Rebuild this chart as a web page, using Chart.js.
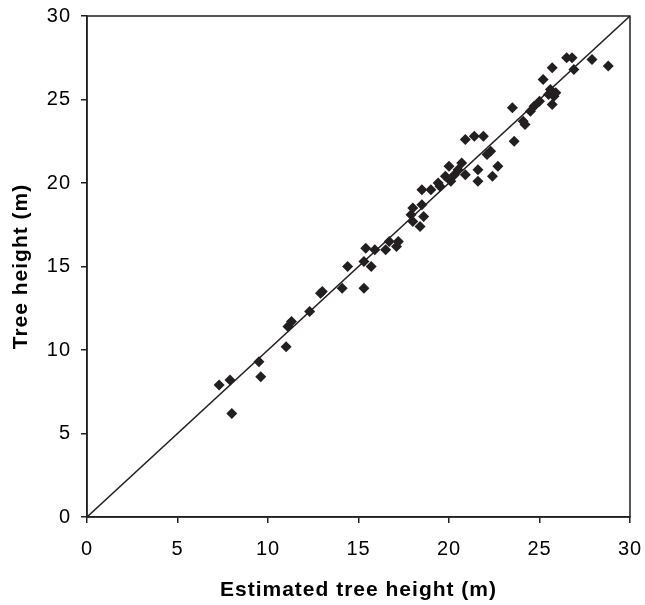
<!DOCTYPE html>
<html>
<head>
    <title>Tree height</title>
    <script src="https://cdn.jsdelivr.net/npm/chart.js"></script>
    <style>
        html, body { margin: 0; padding: 0; background: #fff; }
        .chart-container { width: 645px; height: 605px; }
    </style>
</head>
<body>
    <div class="chart-container">
        <canvas id="heightChart"></canvas>
    </div>
    <script>
        const estimated = [
            7.3, 7.9, 8.0, 9.5, 9.6, 11.0, 11.1, 11.3, 12.3, 12.9,
            13.0, 14.1, 14.4, 15.3, 15.3, 15.4, 15.7, 15.9, 16.5, 16.7,
            17.1, 17.2, 17.9, 18.0, 18.0, 18.4, 18.5, 18.5, 18.6, 19.0,
            19.4, 19.5, 19.8, 20.0, 20.1, 20.3, 20.5, 20.7, 20.9, 20.9,
            21.4, 21.6, 21.6, 21.9, 22.1, 22.3, 22.4, 22.7, 23.5, 23.6,
            24.1, 24.2, 24.5, 24.7, 25.0, 25.2, 25.5, 25.6, 25.7, 25.7,
            25.8, 25.9, 26.5, 26.8, 26.9, 27.9, 28.8
        ];
        const measured = [
            7.9, 8.2, 6.2, 9.3, 8.4, 10.2, 11.4, 11.7, 12.3, 13.4,
            13.5, 13.7, 15.0, 13.7, 15.3, 16.1, 15.0, 16.0, 16.0, 16.5,
            16.2, 16.5, 18.1, 18.5, 17.7, 17.4, 18.7, 19.6, 18.0, 19.6,
            20.0, 19.8, 20.4, 21.0, 20.1, 20.5, 20.8, 21.2, 20.5, 22.6,
            22.8, 20.8, 20.1, 22.8, 21.7, 21.9, 20.4, 21.0, 24.5, 22.5,
            23.7, 23.5, 24.3, 24.6, 24.9, 26.2, 25.3, 25.6, 26.9, 24.7,
            25.2, 25.4, 27.5, 27.5, 26.8, 27.4, 27.0
        ];
        const lineX = [0, 30];
        const lineY = [0, 30];
        const tickValues = [0, 5, 10, 15, 20, 25, 30];

        const ink = '#231f20';
        const tickFont = { family: '"Liberation Sans", Arial, sans-serif', size: 20 };
        const titleFont = { family: '"Liberation Sans", Arial, sans-serif', size: 21, weight: 'bold' };

        // the original text is set a little loose
        const spacing = {
            id: 'spacing',
            beforeLayout(chart) { chart.ctx.letterSpacing = '1px'; },
            beforeDraw(chart) { chart.ctx.letterSpacing = '1px'; }
        };

        // closes the plot box on top and right
        const frame = {
            id: 'frame',
            afterDatasetsDraw(chart) {
                const a = chart.chartArea;
                const c = chart.ctx;
                c.save();
                c.strokeStyle = ink;
                c.lineWidth = 1.5;
                c.strokeRect(a.left, a.top, a.right - a.left, a.bottom - a.top);
                c.restore();
            }
        };

        const ctx = document.getElementById('heightChart').getContext('2d');
        new Chart(ctx, {
            type: 'scatter',
            data: {
                datasets: [
                    {
                        label: 'Trees',
                        data: estimated.map((x, i) => ({ x: x, y: measured[i] })),
                        pointStyle: 'rectRot',
                        pointRadius: 5.5,
                        backgroundColor: ink,
                        borderColor: ink,
                        borderWidth: 0
                    },
                    {
                        type: 'line',
                        label: '1:1',
                        data: lineX.map((x, i) => ({ x: x, y: lineY[i] })),
                        borderColor: ink,
                        borderWidth: 1.5,
                        pointRadius: 0,
                        fill: false
                    }
                ]
            },
            options: {
                responsive: true,
                maintainAspectRatio: false,
                animation: false,
                layout: { padding: { top: 16, right: 15, left: 0, bottom: 0 } },
                plugins: {
                    legend: { display: false },
                    tooltip: { enabled: false }
                },
                scales: {
                    x: {
                        type: 'linear',
                        min: 0,
                        max: 30,
                        afterBuildTicks: s => { s.ticks = tickValues.map(v => ({ value: v })); },
                        afterFit: s => { s.height = 88; s.paddingLeft = 0; s.paddingRight = 0; },
                        grid: { drawOnChartArea: false, color: ink, tickLength: 6, lineWidth: 1.5 },
                        border: { color: ink, width: 1.5 },
                        ticks: { color: '#000', font: tickFont, padding: 14 },
                        title: {
                            display: true,
                            text: 'Estimated tree height (m)',
                            color: '#000',
                            font: titleFont,
                            padding: { top: 4, bottom: 2 }
                        }
                    },
                    y: {
                        type: 'linear',
                        min: 0,
                        max: 30,
                        afterBuildTicks: s => { s.ticks = tickValues.map(v => ({ value: v })); },
                        afterFit: s => { s.width = 87; s.paddingTop = 0; s.paddingBottom = 0; },
                        grid: { drawOnChartArea: false, color: ink, tickLength: 6, lineWidth: 1.5 },
                        border: { color: ink, width: 1.5 },
                        ticks: { color: '#000', font: tickFont, padding: 10 },
                        title: {
                            display: true,
                            text: 'Tree height (m)',
                            color: '#000',
                            font: titleFont,
                            padding: { top: 9, bottom: 4 }
                        }
                    }
                }
            },
            plugins: [spacing, frame]
        });
    </script>
</body>
</html>
